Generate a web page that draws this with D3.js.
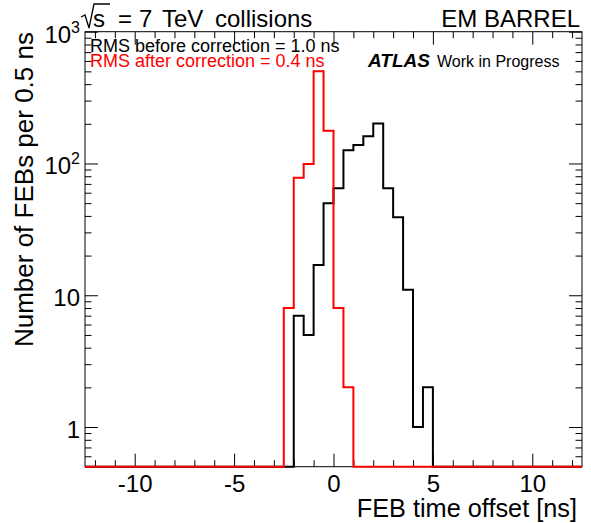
<!DOCTYPE html>
<html><head><meta charset="utf-8">
<script src="https://cdn.jsdelivr.net/npm/d3@7"></script>
<style>
body{margin:0;background:#fff}
text{font-family:"Liberation Sans",Arial,Helvetica,sans-serif;fill:#000}
</style>
</head><body>
<svg id="c" width="591" height="523"></svg>
<script>
// ---- data ----
const binWidth = 0.5;
const xRange = [-12.5, 12.5];
const yRange = [0.5, 1000];
const beforeStart = -2.0;
const beforeCounts = [7, 5, 17, 50, 65, 126, 138, 161, 201, 65, 39, 11, 1, 2];
const afterStart = -2.5;
const afterCounts = [8, 78, 99, 500, 177, 8, 2];
const xMajorTicks = [-10, -5, 0, 5, 10];
const xMinorTicks = [-12, -11, -9, -8, -7, -6, -4, -3, -2, -1, 1, 2, 3, 4, 6, 7, 8, 9, 11, 12];
const yMajorTicks = [1, 10, 100, 1000];
const yMinorTicks = [0.6, 0.7, 0.8, 0.9, 2, 3, 4, 5, 6, 7, 8, 9, 20, 30, 40, 50, 60, 70, 80, 90, 200, 300, 400, 500, 600, 700, 800, 900];
const yTickLabels = {1: ["1", ""], 10: ["10", ""], 100: ["10", "2"], 1000: ["10", "3"]};
const headerLeft = ["s", "=", "7", "TeV", "collisions"];
const headerRight = "EM BARREL";
const rmsBefore = "RMS before correction = 1.0 ns";
const rmsAfter = "RMS after correction = 0.4 ns";
const xTitle = "FEB time offset [ns]";
const yTitle = "Number of FEBs per 0.5 ns";

// ---- layout ----
const L = 85, R = 582, T = 31.7, B = 466.7;
const svg = d3.select("#c");
svg.append("rect").attr("width", 591).attr("height", 523).attr("fill", "#fff");

const x = d3.scaleLinear().domain(xRange).range([L, R]);
const y = d3.scaleLog().domain(yRange).range([B, T]);

function fmtX(d){ return String(d); }

// axes (ticks point inward)
const gB = svg.append("g").attr("transform", `translate(0,${B})`);
gB.call(d3.axisBottom(x).tickValues(xMajorTicks).tickSize(-13).tickPadding(8).tickFormat(fmtX));
gB.append("g").call(d3.axisBottom(x).tickValues(xMinorTicks).tickSize(-6.5).tickFormat(""));
const gT = svg.append("g").attr("transform", `translate(0,${T})`);
gT.call(d3.axisTop(x).tickValues(xMajorTicks).tickSize(-13).tickFormat(""));
gT.append("g").call(d3.axisTop(x).tickValues(xMinorTicks).tickSize(-6.5).tickFormat(""));

const gL = svg.append("g").attr("transform", `translate(${L},0)`);
gL.call(d3.axisLeft(y).tickValues(yMajorTicks).tickSize(-13).tickPadding(5).tickFormat(""));
gL.append("g").call(d3.axisLeft(y).tickValues(yMinorTicks).tickSize(-6.5).tickFormat(""));
const gR = svg.append("g").attr("transform", `translate(${R},0)`);
gR.call(d3.axisRight(y).tickValues(yMajorTicks).tickSize(-13).tickFormat(""));
gR.append("g").call(d3.axisRight(y).tickValues(yMinorTicks).tickSize(-6.5).tickFormat(""));

svg.selectAll(".domain").remove();
svg.selectAll(".tick line").attr("stroke", "#000").attr("stroke-width", 1);
gB.selectAll(".tick text").attr("font-size", 24).attr("font-family", null).attr("fill", "#000");

// y tick labels with superscripts
yMajorTicks.forEach(v => {
  const [base, sup] = yTickLabels[v];
  const t = svg.append("text").attr("x", L - 5).attr("y", y(v) + 11)
    .attr("text-anchor", "end").attr("font-size", 24);
  t.append("tspan").text(base);
  if (sup) t.append("tspan").attr("font-size", 16).attr("dy", -10).text(sup);
});

// frame
svg.append("rect").attr("x", L).attr("y", T).attr("width", R - L).attr("height", B - T)
  .attr("fill", "none").attr("stroke", "#000").attr("stroke-width", 1);

// histograms
function outline(start, counts){
  const pts = [[xRange[0], yRange[0]], [start, yRange[0]]];
  counts.forEach((c, i) => {
    const v = c > 0 ? c : yRange[0];
    pts.push([start + i * binWidth, v], [start + (i + 1) * binWidth, v]);
  });
  const end = start + counts.length * binWidth;
  pts.push([end, yRange[0]], [xRange[1], yRange[0]]);
  return pts;
}
const line = d3.line().x(d => x(d[0])).y(d => y(d[1]));
svg.append("path").attr("d", line(outline(beforeStart, beforeCounts)))
  .attr("fill", "none").attr("stroke", "#000").attr("stroke-width", 2);
svg.append("path").attr("d", line(outline(afterStart, afterCounts)))
  .attr("fill", "none").attr("stroke", "#ff0000").attr("stroke-width", 2);

// axis titles
svg.append("text").attr("x", 577).attr("y", 517).attr("text-anchor", "end")
  .attr("font-size", 25.3).text(xTitle);
svg.append("text").attr("transform", "translate(33,32) rotate(-90)").attr("text-anchor", "end")
  .attr("font-size", 26).text(yTitle);

// header
svg.append("path").attr("d", "M81,17 L85,15 L89,28 L94,4 L110,4")
  .attr("fill", "none").attr("stroke", "#000").attr("stroke-width", 1.3);
const hx = [93, 118, 139, 162, 215];
const ht = svg.append("text").attr("y", 27).attr("font-size", 24);
headerLeft.forEach((s, i) => ht.append("tspan").attr("x", hx[i]).text(s));
svg.append("text").attr("x", 580).attr("y", 27).attr("text-anchor", "end")
  .attr("font-size", 24).text(headerRight);

// legend texts
svg.append("text").attr("x", 90).attr("y", 51.5).attr("font-size", 18).text(rmsBefore);
svg.append("text").attr("x", 90).attr("y", 67).attr("font-size", 18)
  .style("fill", "#ff0000").text(rmsAfter);
svg.append("text").attr("x", 368).attr("y", 66.5).attr("font-size", 19)
  .attr("font-weight", "bold").attr("font-style", "italic").text("ATLAS");
svg.append("text").attr("x", 437).attr("y", 66.5).attr("font-size", 16).text("Work in Progress");
</script>
</body></html>
